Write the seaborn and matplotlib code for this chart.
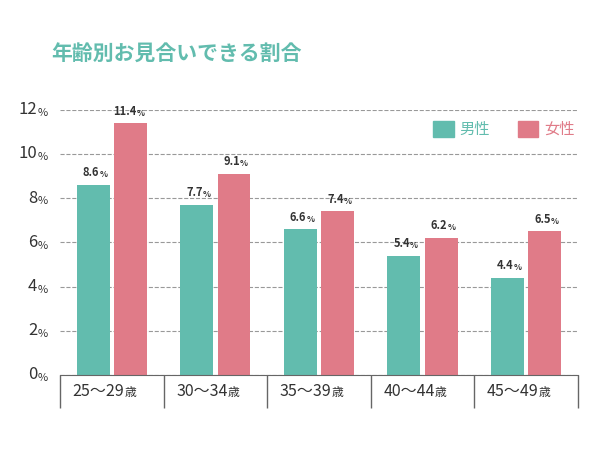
import matplotlib.pyplot as plt
import seaborn as sns
import pandas as pd
import numpy as np

plt.rcParams["font.family"] = "Noto Sans CJK JP"

TEAL = "#62bcae"
PINK = "#e07b88"
TEXT = "#333333"

categories = ["25～29", "30～34", "35～39", "40～44", "45～49"]
male = [8.6, 7.7, 6.6, 5.4, 4.4]
female = [11.4, 9.1, 7.4, 6.2, 6.5]
yticks = [0, 2, 4, 6, 8, 10, 12]

df = pd.DataFrame({
    "age": categories * 2,
    "value": male + female,
    "sex": ["男性"] * len(categories) + ["女性"] * len(categories),
})

fig = plt.figure(figsize=(6, 4.5), dpi=100, facecolor="white")
ax = fig.add_axes([0.1, 0.167, 0.863, 0.589])

sns.barplot(data=df, x="age", y="value", hue="sex", palette=[TEAL, PINK],
            width=0.72, gap=0.12, ax=ax, legend=False, saturation=1)

ax.set_ylim(0, 12)
ax.set_xlim(-0.5, len(categories) - 0.5)
ax.set_yticks(yticks)
ax.set_yticklabels([])
ax.set_xticklabels([])
ax.tick_params(axis="y", length=0)
ax.tick_params(axis="x", which="major", length=0)
ax.set_xticks(np.arange(-0.5, len(categories)), minor=True)
ax.tick_params(axis="x", which="minor", length=24, width=1, color="#666666")
ax.set_xlabel("")
ax.set_ylabel("")
ax.grid(axis="y", linestyle="--", color="#999999", linewidth=0.8)
ax.set_axisbelow(True)
for s in ["top", "right", "left"]:
    ax.spines[s].set_visible(False)
ax.spines["bottom"].set_color("#666666")

# y tick labels with small %
for v in yticks:
    ax.text(-0.72, v, str(v), ha="right", va="center", fontsize=12, color=TEXT,
            transform=ax.get_yaxis_transform() if False else ax.transData)
    ax.text(-0.72, v - 0.15, "%", ha="left", va="center", fontsize=8, color=TEXT)

# x labels with small 歳
for i, c in enumerate(categories):
    ax.text(i + 0.12, -0.75, c, ha="right", va="center", fontsize=11.5, color=TEXT)
    ax.text(i + 0.12, -0.8, "歳", ha="left", va="center", fontsize=8.5, color=TEXT)

# value labels
for cont, vals in zip(ax.containers, [male, female]):
    for bar, v in zip(cont, vals):
        xc = bar.get_x() + bar.get_width() / 2 + 0.06
        ax.text(xc, v + 0.25, f"{v}", ha="right", va="bottom", fontsize=8,
                fontweight="bold", color=TEXT)
        ax.text(xc, v + 0.25, "%", ha="left", va="bottom", fontsize=6,
                fontweight="bold", color=TEXT)

# legend
for x0, col, lab in [(3.1, TEAL, "男性"), (3.92, PINK, "女性")]:
    ax.add_patch(plt.Rectangle((x0, 10.75), 0.2, 0.75, color=col, clip_on=False))
    ax.text(x0 + 0.26, 11.1, lab, ha="left", va="center", fontsize=11, color=col)

fig.text(0.085, 0.88, "年齢別お見合いできる割合", fontsize=15, fontweight="bold",
         color=TEAL, ha="left", va="center")

fig.savefig("out.png", dpi=100, facecolor="white")
